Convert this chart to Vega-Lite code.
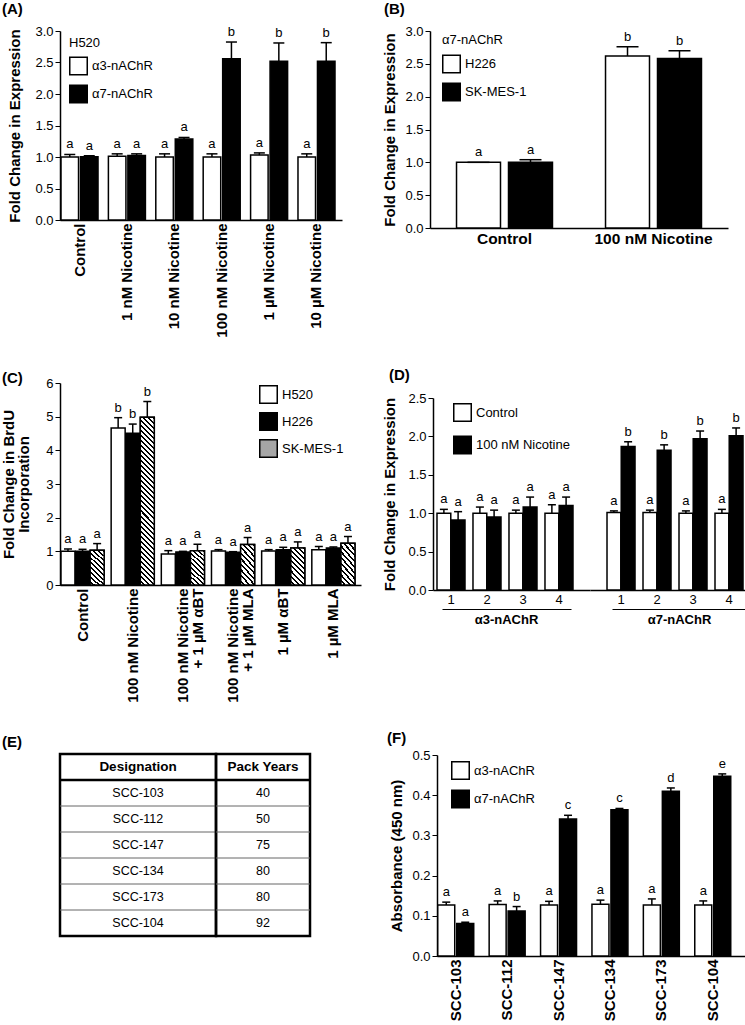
{
"$schema":"https://vega.github.io/schema/vega-lite/v6.json",
"padding":{"left":0,"top":2,"right":0,"bottom":0},
"autosize":{"type":"pad"},
"config":{
 "font":"Liberation Sans",
 "view":{"stroke":null},
 "axis":{"domainColor":"black","domainWidth":1.5,"tickColor":"black","tickWidth":1,"tickSize":5,"labelColor":"black","labelFontSize":13,"titleColor":"black","titleFontSize":15,"titleFontWeight":"bold","grid":false,"labelPadding":2,"labelOverlap":false},
 "legend":{"orient":"none","padding":0,"symbolType":"square","symbolSize":306,"symbolStrokeColor":"black","symbolStrokeWidth":1.5,"labelFontSize":13,"titleFontSize":13,"titleFontWeight":"normal","labelColor":"black","titleColor":"black","labelOffset":4,"titlePadding":7,"rowPadding":3},
 "title":{"fontSize":15,"fontWeight":"bold","color":"black","anchor":"start","frame":"group"}
},
"datasets":{
 "tbl":[
  {"d":"Designation","py":"Pack Years"},
  {"d":"SCC-103","py":"40"},
  {"d":"SCC-112","py":"50"},
  {"d":"SCC-147","py":"75"},
  {"d":"SCC-134","py":"80"},
  {"d":"SCC-173","py":"80"},
  {"d":"SCC-104","py":"92"}
 ]
},
"hconcat":[
 {
  "vconcat":[
   {
    "width":282,"height":189,
    "title":{"text":"(A)","dx":-58,"offset":8},
    "data":{"values":[
     {"cond":"Control","rec":"α3-nAChR","val":1.0,"hi":1.04,"let":"a"},
     {"cond":"Control","rec":"α7-nAChR","val":1.005,"hi":1.02,"let":"a"},
     {"cond":"1 nM Nicotine","rec":"α3-nAChR","val":1.01,"hi":1.05,"let":"a"},
     {"cond":"1 nM Nicotine","rec":"α7-nAChR","val":1.025,"hi":1.05,"let":"a"},
     {"cond":"10 nM Nicotine","rec":"α3-nAChR","val":1.0,"hi":1.05,"let":"a"},
     {"cond":"10 nM Nicotine","rec":"α7-nAChR","val":1.285,"hi":1.31,"let":"a"},
     {"cond":"100 nM Nicotine","rec":"α3-nAChR","val":1.0,"hi":1.05,"let":"a"},
     {"cond":"100 nM Nicotine","rec":"α7-nAChR","val":2.56,"hi":2.825,"let":"b"},
     {"cond":"1 µM Nicotine","rec":"α3-nAChR","val":1.03,"hi":1.065,"let":"a"},
     {"cond":"1 µM Nicotine","rec":"α7-nAChR","val":2.52,"hi":2.81,"let":"b"},
     {"cond":"10 µM Nicotine","rec":"α3-nAChR","val":1.0,"hi":1.05,"let":"a"},
     {"cond":"10 µM Nicotine","rec":"α7-nAChR","val":2.52,"hi":2.815,"let":"b"}
    ]},
    "encoding":{
     "x":{"field":"cond","type":"nominal","title":null,
      "scale":{"domain":["Control","1 nM Nicotine","10 nM Nicotine","100 nM Nicotine","1 µM Nicotine","10 µM Nicotine"],"paddingInner":0.219,"paddingOuter":0.0844,"align":0.125},
      "axis":{"labelAngle":-90,"labelFontSize":15,"labelFontWeight":"bold","ticks":false,"labelPadding":3}},
     "xOffset":{"field":"rec","type":"nominal","scale":{"domain":["α3-nAChR","α7-nAChR"],"paddingInner":0.1}}
    },
    "layer":[
     {"mark":{"type":"bar","stroke":"black","strokeWidth":1.5},
      "encoding":{
       "y":{"field":"val","type":"quantitative","title":"Fold Change in Expression","scale":{"domain":[0,3],"nice":false},"axis":{"values":[0,0.5,1,1.5,2,2.5,3],"format":".1f","titlePadding":12}},
       "fill":{"field":"rec","type":"nominal","scale":{"domain":["α3-nAChR","α7-nAChR"],"range":["white","black"]},"legend":{"title":"H520","legendX":9,"legendY":5.5}}
      }},
     {"mark":{"type":"rule","color":"black","strokeWidth":1.5},
      "encoding":{"y":{"field":"val","type":"quantitative","title":"Fold Change in Expression","scale":{"domain":[0,3],"nice":false},"axis":{"values":[0,0.5,1,1.5,2,2.5,3],"format":".1f","titlePadding":12}},"y2":{"field":"hi"}}},
     {"mark":{"type":"tick","color":"black","thickness":1.5,"size":11,"opacity":1},
      "encoding":{"y":{"field":"hi","type":"quantitative","title":"Fold Change in Expression","scale":{"domain":[0,3],"nice":false},"axis":{"values":[0,0.5,1,1.5,2,2.5,3],"format":".1f","titlePadding":12}}}},
     {"mark":{"type":"text","baseline":"bottom","dy":-3,"fontSize":13,"color":"black"},
      "encoding":{"y":{"field":"hi","type":"quantitative","title":"Fold Change in Expression","scale":{"domain":[0,3],"nice":false},"axis":{"values":[0,0.5,1,1.5,2,2.5,3],"format":".1f","titlePadding":12}},"text":{"field":"let"}}}
    ]
   },
   {
    "vconcat":[
     {
      "width":301,"height":202,
      "title":{"text":"(C)","dx":-58,"offset":-9},
      "data":{"values":[
       {"cond":"Control","line":"H520","val":1.0,"hi":1.07,"let":"a"},
       {"cond":"Control","line":"H226","val":1.0,"hi":1.06,"let":"a"},
       {"cond":"Control","line":"SK-MES-1","val":1.03,"hi":1.23,"let":"a"},
       {"cond":"100 nM Nicotine","line":"H520","val":4.66,"hi":4.97,"let":"b"},
       {"cond":"100 nM Nicotine","line":"H226","val":4.51,"hi":4.78,"let":"b"},
       {"cond":"100 nM Nicotine","line":"SK-MES-1","val":4.98,"hi":5.45,"let":"b"},
       {"cond":"100 nM Nicotine + 1 µM αBT","line":"H520","val":0.92,"hi":1.02,"let":"a"},
       {"cond":"100 nM Nicotine + 1 µM αBT","line":"H226","val":0.98,"hi":1.0,"let":"a"},
       {"cond":"100 nM Nicotine + 1 µM αBT","line":"SK-MES-1","val":1.02,"hi":1.21,"let":"a"},
       {"cond":"100 nM Nicotine + 1 µM MLA","line":"H520","val":1.01,"hi":1.05,"let":"a"},
       {"cond":"100 nM Nicotine + 1 µM MLA","line":"H226","val":0.97,"hi":0.99,"let":"a"},
       {"cond":"100 nM Nicotine + 1 µM MLA","line":"SK-MES-1","val":1.2,"hi":1.41,"let":"a"},
       {"cond":"1 µM αBT","line":"H520","val":1.01,"hi":1.05,"let":"a"},
       {"cond":"1 µM αBT","line":"H226","val":1.05,"hi":1.12,"let":"a"},
       {"cond":"1 µM αBT","line":"SK-MES-1","val":1.1,"hi":1.28,"let":"a"},
       {"cond":"1 µM MLA","line":"H520","val":1.05,"hi":1.14,"let":"a"},
       {"cond":"1 µM MLA","line":"H226","val":1.1,"hi":1.13,"let":"a"},
       {"cond":"1 µM MLA","line":"SK-MES-1","val":1.24,"hi":1.44,"let":"a"}
      ]},
      "encoding":{
       "x":{"field":"cond","type":"nominal","title":null,
        "scale":{"domain":["Control","100 nM Nicotine","100 nM Nicotine + 1 µM αBT","100 nM Nicotine + 1 µM MLA","1 µM αBT","1 µM MLA"],"paddingInner":0.14,"paddingOuter":0.07,"align":0.14},
        "axis":{"labelAngle":-90,"labelFontSize":15,"labelFontWeight":"bold","ticks":false,"labelPadding":3,"labelLineHeight":15,
         "labelExpr":"indexof(datum.label, ' + ') > 0 ? [substring(datum.label, 0, indexof(datum.label, ' + ')), substring(datum.label, indexof(datum.label, ' + ') + 1)] : datum.label"}},
       "xOffset":{"field":"line","type":"nominal","scale":{"domain":["H520","H226","SK-MES-1"],"paddingInner":0.04}}
      },
      "layer":[
       {"mark":{"type":"bar","stroke":"black","strokeWidth":1.5},
        "encoding":{
         "y":{"field":"val","type":"quantitative","title":["Fold Change in BrdU","Incorporation"],"scale":{"domain":[0,6],"nice":false},"axis":{"values":[0,1,2,3,4,5,6],"titleLineHeight":15,"titlePadding":14}},
         "fill":{"field":"line","type":"nominal","scale":{"domain":["H520","H226","SK-MES-1"],"range":["white","black","#a6a6a6"]},
          "legend":{"title":null,"legendX":199,"legendY":2,"rowPadding":2}}
        }},
       {"transform":[{"filter":"datum.line === 'SK-MES-1' && datum.cond !== '100 nM Nicotine'"}],
        "mark":{"type":"bar","stroke":"black","strokeWidth":1.5,
         "fill":{"gradient":"linear","x1":1,"y1":0,"x2":0.54,"y2":1.21,"stops":[
          {"offset":0,"color":"#000"},{"offset":0.04,"color":"#000"},{"offset":0.04,"color":"#fff"},{"offset":0.1,"color":"#fff"},
          {"offset":0.1,"color":"#000"},{"offset":0.14,"color":"#000"},{"offset":0.14,"color":"#fff"},{"offset":0.2,"color":"#fff"},
          {"offset":0.2,"color":"#000"},{"offset":0.24,"color":"#000"},{"offset":0.24,"color":"#fff"},{"offset":0.3,"color":"#fff"},
          {"offset":0.3,"color":"#000"},{"offset":0.34,"color":"#000"},{"offset":0.34,"color":"#fff"},{"offset":0.4,"color":"#fff"},
          {"offset":0.4,"color":"#000"},{"offset":0.44,"color":"#000"},{"offset":0.44,"color":"#fff"},{"offset":0.5,"color":"#fff"},
          {"offset":0.5,"color":"#000"},{"offset":0.54,"color":"#000"},{"offset":0.54,"color":"#fff"},{"offset":0.6,"color":"#fff"},
          {"offset":0.6,"color":"#000"},{"offset":0.64,"color":"#000"},{"offset":0.64,"color":"#fff"},{"offset":0.7,"color":"#fff"},
          {"offset":0.7,"color":"#000"},{"offset":0.74,"color":"#000"},{"offset":0.74,"color":"#fff"},{"offset":0.8,"color":"#fff"},
          {"offset":0.8,"color":"#000"},{"offset":0.84,"color":"#000"},{"offset":0.84,"color":"#fff"},{"offset":0.9,"color":"#fff"},
          {"offset":0.9,"color":"#000"},{"offset":0.94,"color":"#000"},{"offset":0.94,"color":"#fff"},{"offset":1,"color":"#fff"}
         ]}},
        "encoding":{"y":{"field":"val","type":"quantitative","title":["Fold Change in BrdU","Incorporation"],"scale":{"domain":[0,6],"nice":false},"axis":{"values":[0,1,2,3,4,5,6],"titleLineHeight":15,"titlePadding":14}}}},
       {"transform":[{"filter":"datum.line === 'SK-MES-1' && datum.cond === '100 nM Nicotine'"}],
        "mark":{"type":"bar","stroke":"black","strokeWidth":1.5,
         "fill":{"gradient":"linear","x1":1,"y1":0,"x2":0.91,"y2":1.076,"stops":[
          {"offset":0,"color":"#000"},{"offset":0.0111,"color":"#000"},{"offset":0.0111,"color":"#fff"},{"offset":0.0278,"color":"#fff"},
          {"offset":0.0278,"color":"#000"},{"offset":0.0389,"color":"#000"},{"offset":0.0389,"color":"#fff"},{"offset":0.0556,"color":"#fff"},
          {"offset":0.0556,"color":"#000"},{"offset":0.0667,"color":"#000"},{"offset":0.0667,"color":"#fff"},{"offset":0.0833,"color":"#fff"},
          {"offset":0.0833,"color":"#000"},{"offset":0.0944,"color":"#000"},{"offset":0.0944,"color":"#fff"},{"offset":0.1111,"color":"#fff"},
          {"offset":0.1111,"color":"#000"},{"offset":0.1222,"color":"#000"},{"offset":0.1222,"color":"#fff"},{"offset":0.1389,"color":"#fff"},
          {"offset":0.1389,"color":"#000"},{"offset":0.15,"color":"#000"},{"offset":0.15,"color":"#fff"},{"offset":0.1667,"color":"#fff"},
          {"offset":0.1667,"color":"#000"},{"offset":0.1778,"color":"#000"},{"offset":0.1778,"color":"#fff"},{"offset":0.1944,"color":"#fff"},
          {"offset":0.1944,"color":"#000"},{"offset":0.2056,"color":"#000"},{"offset":0.2056,"color":"#fff"},{"offset":0.2222,"color":"#fff"},
          {"offset":0.2222,"color":"#000"},{"offset":0.2333,"color":"#000"},{"offset":0.2333,"color":"#fff"},{"offset":0.25,"color":"#fff"},
          {"offset":0.25,"color":"#000"},{"offset":0.2611,"color":"#000"},{"offset":0.2611,"color":"#fff"},{"offset":0.2778,"color":"#fff"},
          {"offset":0.2778,"color":"#000"},{"offset":0.2889,"color":"#000"},{"offset":0.2889,"color":"#fff"},{"offset":0.3056,"color":"#fff"},
          {"offset":0.3056,"color":"#000"},{"offset":0.3167,"color":"#000"},{"offset":0.3167,"color":"#fff"},{"offset":0.3333,"color":"#fff"},
          {"offset":0.3333,"color":"#000"},{"offset":0.3444,"color":"#000"},{"offset":0.3444,"color":"#fff"},{"offset":0.3611,"color":"#fff"},
          {"offset":0.3611,"color":"#000"},{"offset":0.3722,"color":"#000"},{"offset":0.3722,"color":"#fff"},{"offset":0.3889,"color":"#fff"},
          {"offset":0.3889,"color":"#000"},{"offset":0.4,"color":"#000"},{"offset":0.4,"color":"#fff"},{"offset":0.4167,"color":"#fff"},
          {"offset":0.4167,"color":"#000"},{"offset":0.4278,"color":"#000"},{"offset":0.4278,"color":"#fff"},{"offset":0.4444,"color":"#fff"},
          {"offset":0.4444,"color":"#000"},{"offset":0.4556,"color":"#000"},{"offset":0.4556,"color":"#fff"},{"offset":0.4722,"color":"#fff"},
          {"offset":0.4722,"color":"#000"},{"offset":0.4833,"color":"#000"},{"offset":0.4833,"color":"#fff"},{"offset":0.5,"color":"#fff"},
          {"offset":0.5,"color":"#000"},{"offset":0.5111,"color":"#000"},{"offset":0.5111,"color":"#fff"},{"offset":0.5278,"color":"#fff"},
          {"offset":0.5278,"color":"#000"},{"offset":0.5389,"color":"#000"},{"offset":0.5389,"color":"#fff"},{"offset":0.5556,"color":"#fff"},
          {"offset":0.5556,"color":"#000"},{"offset":0.5667,"color":"#000"},{"offset":0.5667,"color":"#fff"},{"offset":0.5833,"color":"#fff"},
          {"offset":0.5833,"color":"#000"},{"offset":0.5944,"color":"#000"},{"offset":0.5944,"color":"#fff"},{"offset":0.6111,"color":"#fff"},
          {"offset":0.6111,"color":"#000"},{"offset":0.6222,"color":"#000"},{"offset":0.6222,"color":"#fff"},{"offset":0.6389,"color":"#fff"},
          {"offset":0.6389,"color":"#000"},{"offset":0.65,"color":"#000"},{"offset":0.65,"color":"#fff"},{"offset":0.6667,"color":"#fff"},
          {"offset":0.6667,"color":"#000"},{"offset":0.6778,"color":"#000"},{"offset":0.6778,"color":"#fff"},{"offset":0.6944,"color":"#fff"},
          {"offset":0.6944,"color":"#000"},{"offset":0.7056,"color":"#000"},{"offset":0.7056,"color":"#fff"},{"offset":0.7222,"color":"#fff"},
          {"offset":0.7222,"color":"#000"},{"offset":0.7333,"color":"#000"},{"offset":0.7333,"color":"#fff"},{"offset":0.75,"color":"#fff"},
          {"offset":0.75,"color":"#000"},{"offset":0.7611,"color":"#000"},{"offset":0.7611,"color":"#fff"},{"offset":0.7778,"color":"#fff"},
          {"offset":0.7778,"color":"#000"},{"offset":0.7889,"color":"#000"},{"offset":0.7889,"color":"#fff"},{"offset":0.8056,"color":"#fff"},
          {"offset":0.8056,"color":"#000"},{"offset":0.8167,"color":"#000"},{"offset":0.8167,"color":"#fff"},{"offset":0.8333,"color":"#fff"},
          {"offset":0.8333,"color":"#000"},{"offset":0.8444,"color":"#000"},{"offset":0.8444,"color":"#fff"},{"offset":0.8611,"color":"#fff"},
          {"offset":0.8611,"color":"#000"},{"offset":0.8722,"color":"#000"},{"offset":0.8722,"color":"#fff"},{"offset":0.8889,"color":"#fff"},
          {"offset":0.8889,"color":"#000"},{"offset":0.9,"color":"#000"},{"offset":0.9,"color":"#fff"},{"offset":0.9167,"color":"#fff"},
          {"offset":0.9167,"color":"#000"},{"offset":0.9278,"color":"#000"},{"offset":0.9278,"color":"#fff"},{"offset":0.9444,"color":"#fff"},
          {"offset":0.9444,"color":"#000"},{"offset":0.9556,"color":"#000"},{"offset":0.9556,"color":"#fff"},{"offset":0.9722,"color":"#fff"},
          {"offset":0.9722,"color":"#000"},{"offset":0.9833,"color":"#000"},{"offset":0.9833,"color":"#fff"},{"offset":1,"color":"#fff"}
         ]}},
        "encoding":{"y":{"field":"val","type":"quantitative","title":["Fold Change in BrdU","Incorporation"],"scale":{"domain":[0,6],"nice":false},"axis":{"values":[0,1,2,3,4,5,6],"titleLineHeight":15,"titlePadding":14}}}},
       {"mark":{"type":"rule","color":"black","strokeWidth":1.5},
        "encoding":{"y":{"field":"val","type":"quantitative","title":["Fold Change in BrdU","Incorporation"],"scale":{"domain":[0,6],"nice":false},"axis":{"values":[0,1,2,3,4,5,6],"titleLineHeight":15,"titlePadding":14}},"y2":{"field":"hi"}}},
       {"mark":{"type":"tick","color":"black","thickness":1.5,"size":8,"opacity":1},
        "encoding":{"y":{"field":"hi","type":"quantitative","title":["Fold Change in BrdU","Incorporation"],"scale":{"domain":[0,6],"nice":false},"axis":{"values":[0,1,2,3,4,5,6],"titleLineHeight":15,"titlePadding":14}}}},
       {"mark":{"type":"text","baseline":"bottom","dy":-3,"fontSize":13,"color":"black"},
        "encoding":{"y":{"field":"hi","type":"quantitative","title":["Fold Change in BrdU","Incorporation"],"scale":{"domain":[0,6],"nice":false},"axis":{"values":[0,1,2,3,4,5,6],"titleLineHeight":15,"titlePadding":14}},"text":{"field":"let"}}}
      ]
     },
     {
      "hconcat":[
       {
        "width":156,"height":182,
        "view":{"stroke":"black","strokeWidth":2.5},
        "title":{"text":"(E)","dx":-58,"offset":4.5},
        "data":{"name":"tbl"},
        "layer":[
         {"transform":[{"filter":"datum.d !== 'Designation'"}],"mark":{"type":"rule"},
          "encoding":{"y":{"field":"d","type":"nominal","bandPosition":0,"scale":{"domain":["Designation","SCC-103","SCC-112","SCC-147","SCC-134","SCC-173","SCC-104"],"paddingInner":0,"paddingOuter":0},"axis":null},
           "color":{"condition":{"test":"datum.d === 'SCC-103'","value":"black"},"value":"#666"},
           "strokeWidth":{"condition":{"test":"datum.d === 'SCC-103'","value":2.5},"value":1}}},
         {"transform":[{"filter":"datum.d === 'Designation'"}],"mark":{"type":"text","fontSize":13.5,"fontWeight":"bold","color":"black"},
          "encoding":{"y":{"field":"d","type":"nominal","scale":{"domain":["Designation","SCC-103","SCC-112","SCC-147","SCC-134","SCC-173","SCC-104"],"paddingInner":0,"paddingOuter":0},"axis":null},"text":{"field":"d"}}},
         {"transform":[{"filter":"datum.d !== 'Designation'"}],"mark":{"type":"text","fontSize":12.5,"color":"black"},
          "encoding":{"y":{"field":"d","type":"nominal","scale":{"domain":["Designation","SCC-103","SCC-112","SCC-147","SCC-134","SCC-173","SCC-104"],"paddingInner":0,"paddingOuter":0},"axis":null},"text":{"field":"d"}}}
        ]
       },
       {
        "width":94,"height":182,
        "view":{"stroke":"black","strokeWidth":2.5},
        "data":{"name":"tbl"},
        "layer":[
         {"transform":[{"filter":"datum.d !== 'Designation'"}],"mark":{"type":"rule"},
          "encoding":{"y":{"field":"d","type":"nominal","bandPosition":0,"scale":{"domain":["Designation","SCC-103","SCC-112","SCC-147","SCC-134","SCC-173","SCC-104"],"paddingInner":0,"paddingOuter":0},"axis":null},
           "color":{"condition":{"test":"datum.d === 'SCC-103'","value":"black"},"value":"#666"},
           "strokeWidth":{"condition":{"test":"datum.d === 'SCC-103'","value":2.5},"value":1}}},
         {"transform":[{"filter":"datum.d === 'Designation'"}],"mark":{"type":"text","fontSize":13.5,"fontWeight":"bold","color":"black"},
          "encoding":{"y":{"field":"d","type":"nominal","scale":{"domain":["Designation","SCC-103","SCC-112","SCC-147","SCC-134","SCC-173","SCC-104"],"paddingInner":0,"paddingOuter":0},"axis":null},"text":{"field":"py"}}},
         {"transform":[{"filter":"datum.d !== 'Designation'"}],"mark":{"type":"text","fontSize":12.5,"color":"black"},
          "encoding":{"y":{"field":"d","type":"nominal","scale":{"domain":["Designation","SCC-103","SCC-112","SCC-147","SCC-134","SCC-173","SCC-104"],"paddingInner":0,"paddingOuter":0},"axis":null},"text":{"field":"py"}}}
        ]
       }
      ],
      "spacing":0,"bounds":"flush",
      "resolve":{"scale":{"y":"independent"}}
     }
    ],
    "spacing":169,"bounds":"flush",
    "resolve":{"scale":{"x":"independent","y":"independent","xOffset":"independent","fill":"independent"}}
   }
  ],
  "spacing":163,"bounds":"flush",
  "resolve":{"scale":{"x":"independent","y":"independent","xOffset":"independent","fill":"independent"}}
 },
 {
  "vconcat":[
   {
    "width":298,"height":197,
    "title":{"text":"(B)","dx":-46,"offset":8},
    "data":{"values":[
     {"cond":"Control","line":"H226","val":1.0,"hi":1.0,"let":"a"},
     {"cond":"Control","line":"SK-MES-1","val":1.0,"hi":1.04,"let":"a"},
     {"cond":"100 nM Nicotine","line":"H226","val":2.62,"hi":2.76,"let":"b"},
     {"cond":"100 nM Nicotine","line":"SK-MES-1","val":2.58,"hi":2.7,"let":"b"}
    ]},
    "encoding":{
     "x":{"field":"cond","type":"nominal","title":null,
      "scale":{"domain":["Control","100 nM Nicotine"],"paddingInner":0.356,"paddingOuter":0.178},
      "axis":{"labelAngle":0,"labelFontSize":15.5,"labelFontWeight":"bold","ticks":false,"labelPadding":3}},
     "xOffset":{"field":"line","type":"nominal","scale":{"domain":["H226","SK-MES-1"],"paddingInner":0.154}}
    },
    "layer":[
     {"mark":{"type":"bar","stroke":"black","strokeWidth":1.5},
      "encoding":{
       "y":{"field":"val","type":"quantitative","title":"Fold Change in Expression","scale":{"domain":[0,3],"nice":false},"axis":{"values":[0,0.5,1,1.5,2,2.5,3],"format":".1f","titlePadding":7}},
       "fill":{"field":"line","type":"nominal","scale":{"domain":["H226","SK-MES-1"],"range":["white","black"]},"legend":{"title":"α7-nAChR","legendX":12,"legendY":2.5,"titlePadding":8}}
      }},
     {"mark":{"type":"rule","color":"black","strokeWidth":1.5},
      "encoding":{"y":{"field":"val","type":"quantitative","title":"Fold Change in Expression","scale":{"domain":[0,3],"nice":false},"axis":{"values":[0,0.5,1,1.5,2,2.5,3],"format":".1f","titlePadding":7}},"y2":{"field":"hi"}}},
     {"mark":{"type":"tick","color":"black","thickness":1.5,"size":22,"opacity":1},
      "encoding":{"y":{"field":"hi","type":"quantitative","title":"Fold Change in Expression","scale":{"domain":[0,3],"nice":false},"axis":{"values":[0,0.5,1,1.5,2,2.5,3],"format":".1f","titlePadding":7}}}},
     {"mark":{"type":"text","baseline":"bottom","dy":-3,"fontSize":13,"color":"black"},
      "encoding":{"y":{"field":"hi","type":"quantitative","title":"Fold Change in Expression","scale":{"domain":[0,3],"nice":false},"axis":{"values":[0,0.5,1,1.5,2,2.5,3],"format":".1f","titlePadding":7}},"text":{"field":"let"}}}
    ]
   },
   {
    "vconcat":[
     {
      "hconcat":[
       {
        "width":160,"height":192,
        "title":{"text":"(D)","dx":-41,"offset":9},
        "layer":[
         {
          "data":{"values":[
           {"rep":"1","cond":"Control","val":1.0,"hi":1.05,"let":"a"},
           {"rep":"1","cond":"100 nM Nicotine","val":0.91,"hi":1.02,"let":"a"},
           {"rep":"2","cond":"Control","val":1.0,"hi":1.08,"let":"a"},
           {"rep":"2","cond":"100 nM Nicotine","val":0.95,"hi":1.04,"let":"a"},
           {"rep":"3","cond":"Control","val":1.0,"hi":1.04,"let":"a"},
           {"rep":"3","cond":"100 nM Nicotine","val":1.08,"hi":1.21,"let":"a"},
           {"rep":"4","cond":"Control","val":1.0,"hi":1.11,"let":"a"},
           {"rep":"4","cond":"100 nM Nicotine","val":1.1,"hi":1.21,"let":"a"}
          ]},
          "encoding":{
           "x":{"field":"rep","type":"nominal","title":null,
            "scale":{"domain":["1","2","3","4"],"range":[3,160],"paddingInner":0.222,"paddingOuter":0.2917,"align":0.19},
            "axis":{"labelAngle":0,"ticks":false,"labelPadding":3}},
           "xOffset":{"field":"cond","type":"nominal","scale":{"domain":["Control","100 nM Nicotine"],"paddingInner":0.03}}
          },
          "layer":[
           {"mark":{"type":"bar","stroke":"black","strokeWidth":1.5},
            "encoding":{
             "y":{"field":"val","type":"quantitative","title":"Fold Change in Expression","scale":{"domain":[0,2.5],"nice":false},"axis":{"values":[0,0.5,1,1.5,2,2.5],"format":".1f","titlePadding":10,"offset":-3}},
             "fill":{"field":"cond","type":"nominal","scale":{"domain":["Control","100 nM Nicotine"],"range":["white","black"]},"legend":{"title":null,"legendX":23,"legendY":5,"rowPadding":7.5}}
            }},
           {"mark":{"type":"rule","color":"black","strokeWidth":1.5},
            "encoding":{"y":{"field":"val","type":"quantitative","title":"Fold Change in Expression","scale":{"domain":[0,2.5],"nice":false},"axis":{"values":[0,0.5,1,1.5,2,2.5],"format":".1f","titlePadding":10,"offset":-3}},"y2":{"field":"hi"}}},
           {"mark":{"type":"tick","color":"black","thickness":1.5,"size":8,"opacity":1},
            "encoding":{"y":{"field":"hi","type":"quantitative","title":"Fold Change in Expression","scale":{"domain":[0,2.5],"nice":false},"axis":{"values":[0,0.5,1,1.5,2,2.5],"format":".1f","titlePadding":10,"offset":-3}}}},
           {"mark":{"type":"text","baseline":"bottom","dy":-3,"fontSize":13,"color":"black"},
            "encoding":{"y":{"field":"hi","type":"quantitative","title":"Fold Change in Expression","scale":{"domain":[0,2.5],"nice":false},"axis":{"values":[0,0.5,1,1.5,2,2.5],"format":".1f","titlePadding":10,"offset":-3}},"text":{"field":"let"}}}
          ]
         },
         {
          "data":{"values":[{"grp":"α3-nAChR"}]},
          "mark":{"type":"rule","opacity":0},
          "encoding":{"x":{"field":"grp","type":"nominal","title":null,
           "scale":{"domain":["α3-nAChR"],"range":[12,141],"paddingInner":0,"paddingOuter":0},
           "axis":{"orient":"bottom","offset":19,"ticks":false,"domainWidth":1,"labelFontWeight":"bold","labelFontSize":13,"labelPadding":4,"labelAngle":0}}}
         }
        ],
        "resolve":{"scale":{"x":"independent"},"axis":{"x":"independent"}}
       },
       {
        "width":157,"height":192,
        "layer":[
         {
          "data":{"values":[
           {"rep":"1","cond":"Control","val":1.01,"hi":1.03,"let":"a"},
           {"rep":"1","cond":"100 nM Nicotine","val":1.87,"hi":1.93,"let":"b"},
           {"rep":"2","cond":"Control","val":1.01,"hi":1.04,"let":"a"},
           {"rep":"2","cond":"100 nM Nicotine","val":1.82,"hi":1.89,"let":"b"},
           {"rep":"3","cond":"Control","val":1.0,"hi":1.03,"let":"a"},
           {"rep":"3","cond":"100 nM Nicotine","val":1.97,"hi":2.07,"let":"b"},
           {"rep":"4","cond":"Control","val":1.0,"hi":1.05,"let":"a"},
           {"rep":"4","cond":"100 nM Nicotine","val":2.01,"hi":2.11,"let":"b"}
          ]},
          "encoding":{
           "x":{"field":"rep","type":"nominal","title":null,
            "scale":{"domain":["1","2","3","4"],"paddingInner":0.222,"paddingOuter":0.2917,"align":0.81},
            "axis":{"labelAngle":0,"ticks":false,"labelPadding":3}},
           "xOffset":{"field":"cond","type":"nominal","scale":{"domain":["Control","100 nM Nicotine"],"paddingInner":0.03}}
          },
          "layer":[
           {"mark":{"type":"bar","stroke":"black","strokeWidth":1.5},
            "encoding":{
             "y":{"field":"val","type":"quantitative","scale":{"domain":[0,2.5],"nice":false},"axis":null},
             "fill":{"field":"cond","type":"nominal","scale":{"domain":["Control","100 nM Nicotine"],"range":["white","black"]},"legend":null}
            }},
           {"mark":{"type":"rule","color":"black","strokeWidth":1.5},
            "encoding":{"y":{"field":"val","type":"quantitative","scale":{"domain":[0,2.5],"nice":false},"axis":null},"y2":{"field":"hi"}}},
           {"mark":{"type":"tick","color":"black","thickness":1.5,"size":8,"opacity":1},
            "encoding":{"y":{"field":"hi","type":"quantitative","scale":{"domain":[0,2.5],"nice":false},"axis":null}}},
           {"mark":{"type":"text","baseline":"bottom","dy":-3,"fontSize":13,"color":"black"},
            "encoding":{"y":{"field":"hi","type":"quantitative","scale":{"domain":[0,2.5],"nice":false},"axis":null},"text":{"field":"let"}}}
          ]
         },
         {
          "data":{"values":[{"grp":"α7-nAChR"}]},
          "mark":{"type":"rule","opacity":0},
          "encoding":{"x":{"field":"grp","type":"nominal","title":null,
           "scale":{"domain":["α7-nAChR"],"range":[22,157],"paddingInner":0,"paddingOuter":0},
           "axis":{"orient":"bottom","offset":19,"ticks":false,"domainWidth":1,"labelFontWeight":"bold","labelFontSize":13,"labelPadding":4,"labelAngle":0}}}
         }
        ],
        "resolve":{"scale":{"x":"independent"},"axis":{"x":"independent"}}
       }
      ],
      "spacing":0,"bounds":"flush",
      "resolve":{"scale":{"x":"independent","y":"independent","xOffset":"independent","fill":"independent"}}
     },
     {
      "width":315,"height":201,
      "title":{"text":"(F)","dx":-43,"offset":3},
      "data":{"values":[
       {"cell":"SCC-103","rec":"α3-nAChR","val":0.127,"hi":0.134,"let":"a"},
       {"cell":"SCC-103","rec":"α7-nAChR","val":0.081,"hi":0.084,"let":"a"},
       {"cell":"SCC-112","rec":"α3-nAChR","val":0.128,"hi":0.137,"let":"a"},
       {"cell":"SCC-112","rec":"α7-nAChR","val":0.112,"hi":0.123,"let":"b"},
       {"cell":"SCC-147","rec":"α3-nAChR","val":0.127,"hi":0.136,"let":"a"},
       {"cell":"SCC-147","rec":"α7-nAChR","val":0.341,"hi":0.35,"let":"c"},
       {"cell":"SCC-134","rec":"α3-nAChR","val":0.129,"hi":0.139,"let":"a"},
       {"cell":"SCC-134","rec":"α7-nAChR","val":0.364,"hi":0.367,"let":"c"},
       {"cell":"SCC-173","rec":"α3-nAChR","val":0.127,"hi":0.142,"let":"a"},
       {"cell":"SCC-173","rec":"α7-nAChR","val":0.41,"hi":0.418,"let":"d"},
       {"cell":"SCC-104","rec":"α3-nAChR","val":0.127,"hi":0.137,"let":"a"},
       {"cell":"SCC-104","rec":"α7-nAChR","val":0.447,"hi":0.453,"let":"e"}
      ]},
      "encoding":{
       "x":{"field":"cell","type":"nominal","title":null,
        "scale":{"domain":["SCC-103","SCC-112","SCC-147","SCC-134","SCC-173","SCC-104"],"range":[7,315],"paddingInner":0.3,"paddingOuter":0.146,"align":0.05},
        "axis":{"labelAngle":-90,"labelFontSize":15,"labelFontWeight":"bold","ticks":false,"labelPadding":3}},
       "xOffset":{"field":"rec","type":"nominal","scale":{"domain":["α3-nAChR","α7-nAChR"],"paddingInner":0.105}}
      },
      "layer":[
       {"mark":{"type":"bar","stroke":"black","strokeWidth":1.5},
        "encoding":{
         "y":{"field":"val","type":"quantitative","title":"Absorbance (450 nm)","scale":{"domain":[0,0.5],"nice":false},"axis":{"values":[0,0.1,0.2,0.3,0.4,0.5],"format":".1f","titlePadding":7,"offset":-7}},
         "fill":{"field":"rec","type":"nominal","scale":{"domain":["α3-nAChR","α7-nAChR"],"range":["white","black"]},"legend":{"title":null,"legendX":21,"legendY":6,"rowPadding":3.5}}
        }},
       {"mark":{"type":"rule","color":"black","strokeWidth":1.5},
        "encoding":{"y":{"field":"val","type":"quantitative","title":"Absorbance (450 nm)","scale":{"domain":[0,0.5],"nice":false},"axis":{"values":[0,0.1,0.2,0.3,0.4,0.5],"format":".1f","titlePadding":7,"offset":-7}},"y2":{"field":"hi"}}},
       {"mark":{"type":"tick","color":"black","thickness":1.5,"size":8,"opacity":1},
        "encoding":{"y":{"field":"hi","type":"quantitative","title":"Absorbance (450 nm)","scale":{"domain":[0,0.5],"nice":false},"axis":{"values":[0,0.1,0.2,0.3,0.4,0.5],"format":".1f","titlePadding":7,"offset":-7}}}},
       {"mark":{"type":"text","baseline":"bottom","dy":-3,"fontSize":13,"color":"black"},
        "encoding":{"y":{"field":"hi","type":"quantitative","title":"Absorbance (450 nm)","scale":{"domain":[0,0.5],"nice":false},"axis":{"values":[0,0.1,0.2,0.3,0.4,0.5],"format":".1f","titlePadding":7,"offset":-7}},"text":{"field":"let"}}}
      ]
     }
    ],
    "spacing":357,"bounds":"flush",
    "resolve":{"scale":{"x":"independent","y":"independent","xOffset":"independent","fill":"independent"}}
   }
  ],
  "spacing":170,"bounds":"flush",
  "resolve":{"scale":{"x":"independent","y":"independent","xOffset":"independent","fill":"independent"}}
 }
],
"spacing":370,"bounds":"flush",
"resolve":{"scale":{"x":"independent","y":"independent","xOffset":"independent","fill":"independent"}}
}
